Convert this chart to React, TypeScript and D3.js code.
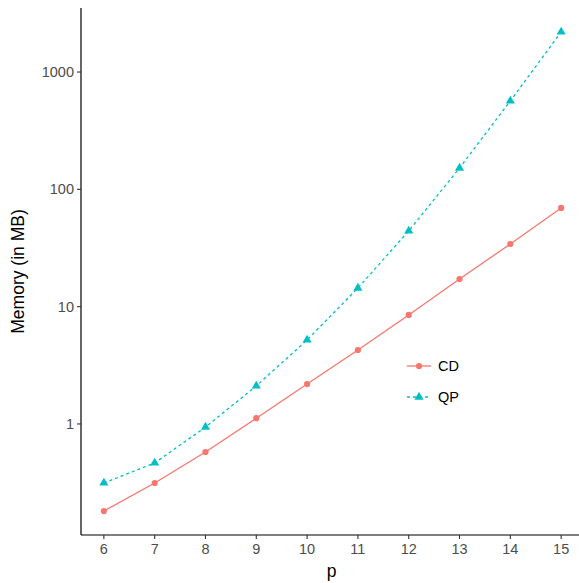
import React from 'react';
import * as d3 from 'd3';

const pValues = [6, 7, 8, 9, 10, 11, 12, 13, 14, 15];
const cdMemory = [0.181, 0.314, 0.577, 1.12, 2.19, 4.27, 8.5, 17.2, 34.2, 69.4];
const qpMemory = [0.314, 0.465, 0.94, 2.11, 5.2, 14.4, 44.2, 152, 567, 2196];
const yTicks = [1, 10, 100, 1000];

const W = 579;
const H = 583;
const margin = { top: 8, right: -5, bottom: 48, left: 81 };

const App = () => {
  const innerW = W - margin.left - margin.right;
  const innerH = H - margin.top - margin.bottom;

  const x = d3.scaleLinear().domain([5.55, 15.45]).range([margin.left, margin.left + innerW]);

  // log scale with ggplot-like 5% expansion
  const allVals = cdMemory.concat(qpMemory);
  const lmin = Math.log10(d3.min(allVals));
  const lmax = Math.log10(d3.max(allVals));
  const pad = (lmax - lmin) * 0.05;
  const y = d3.scaleLog()
    .domain([Math.pow(10, lmin - pad), Math.pow(10, lmax + pad)])
    .range([margin.top + innerH, margin.top]);

  const line = d3.line<number>().x((d, i) => x(pValues[i])).y(d => y(d));
  const tri = d3.symbol().type(d3.symbolTriangle).size(36)();

  const bottom = margin.top + innerH;
  const red = '#F8766D';
  const cyan = '#00BFC4';
  const font = '"Liberation Sans", Arial, Helvetica, sans-serif';

  return (
    <div style={{ position: 'fixed', left: 0, top: 0 }}>
      <svg width={W} height={H} style={{ display: 'block', fontFamily: font }}>
        <rect width={W} height={H} fill="white" />
        {/* lines */}
        <path d={line(cdMemory)} fill="none" stroke={red} strokeWidth={1.3} />
        <path d={line(qpMemory)} fill="none" stroke={cyan} strokeWidth={1.3} strokeDasharray="3,3" />
        {cdMemory.map((v, i) => (
          <circle key={'c' + i} cx={x(pValues[i])} cy={y(v)} r={3.1} fill={red} />
        ))}
        {qpMemory.map((v, i) => (
          <path key={'t' + i} d={tri} transform={`translate(${x(pValues[i])},${y(v)})`} fill={cyan} />
        ))}

        {/* axes */}
        <line x1={margin.left} x2={margin.left} y1={margin.top} y2={bottom} stroke="black" strokeWidth={1.2} />
        <line x1={margin.left} x2={W} y1={bottom} y2={bottom} stroke="black" strokeWidth={1.2} />
        {yTicks.map(t => (
          <g key={'y' + t}>
            <line x1={margin.left - 4} x2={margin.left} y1={y(t)} y2={y(t)} stroke="#333" strokeWidth={1.1} />
            <text x={margin.left - 7} y={y(t)} dy="0.35em" textAnchor="end" fontSize={14.5} fill="#4d4d4d">{t}</text>
          </g>
        ))}
        {pValues.map(p => (
          <g key={'x' + p}>
            <line x1={x(p)} x2={x(p)} y1={bottom} y2={bottom + 4} stroke="#333" strokeWidth={1.1} />
            <text x={x(p)} y={bottom + 19} textAnchor="middle" fontSize={14.5} fill="#4d4d4d">{p}</text>
          </g>
        ))}

        {/* titles */}
        <text x={(margin.left + 584) / 2 - 1} y={H - 6} textAnchor="middle" fontSize={17.5} fill="black">p</text>
        <text transform={`translate(24,${(margin.top + bottom) / 2}) rotate(-90)`} textAnchor="middle" fontSize={17.5} fill="black">Memory (in MB)</text>

        {/* legend */}
        <g>
          <line x1={407} x2={431} y1={366} y2={366} stroke={red} strokeWidth={1.3} />
          <circle cx={419} cy={366} r={3.1} fill={red} />
          <text x={438} y={366} dy="0.35em" fontSize={14.5} fill="black">CD</text>
          <line x1={407} x2={431} y1={397} y2={397} stroke={cyan} strokeWidth={1.3} strokeDasharray="3,3" />
          <path d={tri} transform="translate(419,397)" fill={cyan} />
          <text x={438} y={397} dy="0.35em" fontSize={14.5} fill="black">QP</text>
        </g>
      </svg>
    </div>
  );
};

export default App;
